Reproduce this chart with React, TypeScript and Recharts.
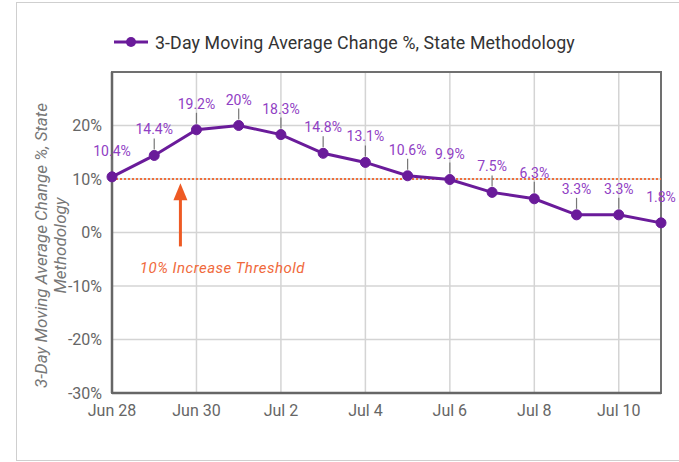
import React from 'react';
import {
  LineChart,
  Line,
  XAxis,
  YAxis,
  CartesianGrid,
  ReferenceLine,
  ReferenceArea,
  Legend,
} from 'recharts';

const dates = [
  'Jun 28', 'Jun 29', 'Jun 30', 'Jul 1', 'Jul 2', 'Jul 3', 'Jul 4',
  'Jul 5', 'Jul 6', 'Jul 7', 'Jul 8', 'Jul 9', 'Jul 10', 'Jul 11',
];
const changePct = [10.4, 14.4, 19.2, 20, 18.3, 14.8, 13.1, 10.6, 9.9, 7.5, 6.3, 3.3, 3.3, 1.8];
const xTicks = [0, 2, 4, 6, 8, 10, 12];
const yTicks = [-30, -20, -10, 0, 10, 20];
const threshold = 10;
const arrowAt = 1.62;
const arrowFrom = -2.6;
const arrowTo = 9.2;

const SERIES_NAME = '3-Day Moving Average Change %, State Methodology';
const PURPLE = '#6a1b9a';
const LABEL_PURPLE = '#9040c4';
const ORANGE = '#ee5a24';
const FONT = 'Roboto, "Noto Sans", sans-serif';

const data = changePct.map((v, i) => ({ idx: i, date: dates[i], value: v }));

const PointLabel = (props: any) => {
  const { x, y, value } = props;
  return (
    <g>
      <line x1={x} y1={y - 6} x2={x} y2={y - 17} stroke="#777" strokeWidth={1.2} />
      <text
        x={x}
        y={y - 21}
        textAnchor="middle"
        fill={LABEL_PURPLE}
        fontSize={14}
        fontFamily={FONT}
      >
        {value}%
      </text>
    </g>
  );
};

const ThresholdArrow = (props: any) => {
  const { x1, y1, y2 } = props;
  const top = Math.min(y1, y2);
  const bottom = Math.max(y1, y2);
  return (
    <g>
      <line x1={x1} y1={top + 14} x2={x1} y2={bottom} stroke={ORANGE} strokeWidth={3} />
      <polygon points={`${x1},${top} ${x1 - 7},${top + 17} ${x1 + 7},${top + 17}`} fill={ORANGE} />
      <text
        x={x1 + 42}
        y={bottom + 27}
        textAnchor="middle"
        fill="#f06a3c"
        fontSize={15}
        letterSpacing={0.5}
        fontStyle="italic"
        fontFamily={FONT}
      >
        10% Increase Threshold
      </text>
    </g>
  );
};

const YLabel = (props: any) => {
  const { viewBox } = props;
  const cy = viewBox.y + viewBox.height / 2 + 13;
  return (
    <g fill="#777" fontSize={17} fontStyle="italic" fontFamily={FONT} textAnchor="middle">
      <text transform={`translate(47, ${cy}) rotate(-90)`}>3-Day Moving Average Change %, State</text>
      <text transform={`translate(66, ${cy}) rotate(-90)`}>Methodology</text>
    </g>
  );
};

const LegendContent = () => (
  <div style={{ display: 'flex', alignItems: 'center', height: 24, fontFamily: FONT }}>
    <svg width={36} height={14} style={{ marginRight: 6 }}>
      <line x1={1} y1={7} x2={35} y2={7} stroke={PURPLE} strokeWidth={3} />
      <circle cx={18} cy={7} r={5} fill={PURPLE} />
    </svg>
    <span style={{ fontSize: 17.8, color: '#333', letterSpacing: 0.1 }}>{SERIES_NAME}</span>
  </div>
);

export default function App() {
  return (
    <div style={{ position: 'absolute', left: 0, top: 0, width: 679, height: 462, background: '#fff', overflow: 'hidden' }}>
      <div
        style={{
          position: 'absolute',
          left: 16,
          top: 2,
          width: 700,
          height: 457,
          border: '1px solid #cfcfcf',
        }}
      />
      <LineChart
        width={679}
        height={462}
        data={data}
        margin={{ top: 48, right: 18, left: 52, bottom: 39 }}
        style={{ position: 'absolute', left: 0, top: 0 }}
      >
        <Legend
          verticalAlign="top"
          align="left"
          content={<LegendContent />}
          wrapperStyle={{ top: 30, left: 113, width: 'auto' }}
        />
        <CartesianGrid stroke="#d4d4d4" strokeWidth={1.5} />
        <XAxis
          type="number"
          dataKey="idx"
          domain={[0, 13]}
          ticks={xTicks}
          tickFormatter={(i: number) => dates[i]}
          interval={0}
          height={30}
          tickLine={false}
          axisLine={{ stroke: '#666', strokeWidth: 2.5 }}
          tick={{ fill: '#666', fontSize: 16, fontFamily: FONT }}
          tickMargin={6}
        />
        <YAxis
          type="number"
          domain={[-30, 30]}
          ticks={yTicks}
          tickFormatter={(v: number) => `${v}%`}
          interval={0}
          width={60}
          tickLine={false}
          axisLine={{ stroke: '#666', strokeWidth: 2.5 }}
          tick={{ fill: '#666', fontSize: 16, fontFamily: FONT }}
          tickMargin={4}
          label={{ content: <YLabel /> }}
        />
        <ReferenceArea x1={0} x2={13} y1={-30} y2={30} fill="none" stroke="#707070" strokeWidth={2} />
        <ReferenceLine y={threshold} stroke="#f0703c" strokeWidth={2} strokeDasharray="2 2" />
        <Line
          type="linear"
          dataKey="value"
          name={SERIES_NAME}
          stroke={PURPLE}
          strokeWidth={3}
          dot={{ r: 5, fill: PURPLE, stroke: PURPLE, strokeWidth: 1 }}
          label={<PointLabel />}
          isAnimationActive={false}
        />
        <ReferenceLine
          segment={[
            { x: arrowAt, y: arrowFrom },
            { x: arrowAt, y: arrowTo },
          ]}
          shape={<ThresholdArrow />}
        />
      </LineChart>
    </div>
  );
}
